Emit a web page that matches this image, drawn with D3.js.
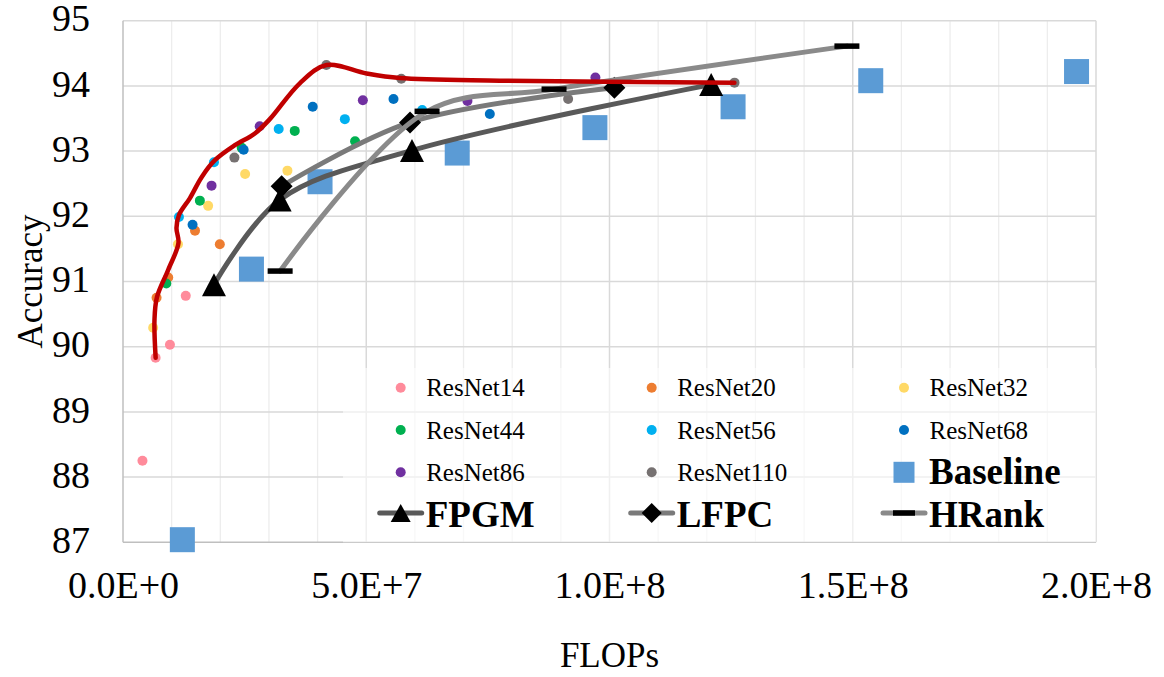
<!DOCTYPE html>
<html>
<head>
<meta charset="utf-8">
<script src="https://cdn.jsdelivr.net/npm/d3@7"></script>
<style>
body { margin: 0; background: #fff; }
text { font-family: "Liberation Serif", "Times New Roman", serif; fill: #000; }
</style>
</head>
<body>
<div id="chart"></div>
<script>
// pruned models, [FLOPs, accuracy]
var resnet14 = [[0.67e7, 89.83], [0.965e7, 90.03], [1.29e7, 90.78], [0.40e7, 88.25]];
var resnet20 = [[0.69e7, 90.75], [0.93e7, 91.06], [1.48e7, 91.78], [1.99e7, 91.57]];
var resnet32 = [[0.62e7, 90.29], [1.13e7, 91.57], [1.75e7, 92.16], [2.51e7, 92.65], [3.38e7, 92.70]];
var resnet44 = [[0.89e7, 90.97], [1.58e7, 92.24], [2.44e7, 93.05], [3.53e7, 93.31], [4.77e7, 93.15]];
var resnet56 = [[1.15e7, 91.99], [1.87e7, 92.83], [3.20e7, 93.34], [4.56e7, 93.49], [6.15e7, 93.63]];
var resnet68 = [[1.43e7, 91.87], [2.48e7, 93.02], [3.90e7, 93.68], [5.56e7, 93.80], [7.54e7, 93.57]];
var resnet86 = [[1.82e7, 92.47], [2.81e7, 93.38], [4.93e7, 93.78], [7.08e7, 93.77], [9.71e7, 94.13]];
var resnet110 = [[2.29e7, 92.90], [4.18e7, 94.32], [5.72e7, 94.11], [9.15e7, 93.80], [12.57e7, 94.05]];

var baseline = [[1.22e7, 87.04], [2.64e7, 91.19], [4.05e7, 92.53], [6.87e7, 92.97],
                [9.70e7, 93.36], [12.54e7, 93.68], [15.37e7, 94.08], [19.60e7, 94.22]];
var fpgm = [[1.87e7, 90.95], [3.22e7, 92.25], [5.94e7, 93.01], [12.09e7, 94.02]];
var lfpc = [[3.26e7, 92.46], [5.90e7, 93.44], [10.10e7, 93.97]];
var hrank = [[3.23e7, 91.16], [6.25e7, 93.61], [8.86e7, 93.95], [14.88e7, 94.61]];

// upper envelope (red)
var envelope = [[0.671e7, 89.83], [0.647e7, 90.41], [0.698e7, 90.76], [0.930e7, 91.18], [1.140e7, 91.59],
                [1.099e7, 91.82], [1.150e7, 92.02], [1.376e7, 92.28], [1.616e7, 92.60], [1.889e7, 92.86],
                [2.300e7, 93.09], [2.710e7, 93.27], [3.018e7, 93.49], [3.634e7, 94.04], [4.183e7, 94.32],
                [5.004e7, 94.19], [5.688e7, 94.12], [7.741e7, 94.08], [12.567e7, 94.05]];

var xTicks = [0, 5e7, 1e8, 1.5e8, 2e8];
var yTicks = [87, 88, 89, 90, 91, 92, 93, 94, 95];

var dotSeries = [
	{name: "ResNet14", color: "#FF8B9B", data: resnet14},
	{name: "ResNet20", color: "#ED7D31", data: resnet20},
	{name: "ResNet32", color: "#FFD966", data: resnet32},
	{name: "ResNet44", color: "#00B050", data: resnet44},
	{name: "ResNet56", color: "#00B0F0", data: resnet56},
	{name: "ResNet68", color: "#0070C0", data: resnet68},
	{name: "ResNet86", color: "#7030A0", data: resnet86},
	{name: "ResNet110", color: "#767171", data: resnet110}
];

var w = 1164, h = 677;
var x = d3.scaleLinear().domain([0, 2e8]).range([123, 1096]);
var y = d3.scaleLinear().domain([87, 95]).range([542.3, 20.7]);

var svg = d3.select("#chart").append("svg")
	.attr("width", w)
	.attr("height", h);

// grid
var grid = svg.append("g");
grid.selectAll(".vminor")
	.data(d3.range(1e7, 2e8, 1e7).filter(function (d) { return d % 5e7 != 0; }))
	.enter().append("line")
	.attr("x1", function (d) { return x(d); }).attr("x2", function (d) { return x(d); })
	.attr("y1", y(95)).attr("y2", y(87))
	.attr("stroke", "#EDEDED").attr("stroke-width", 1.3);
grid.selectAll(".vmajor")
	.data([5e7, 1e8, 1.5e8, 2e8])
	.enter().append("line")
	.attr("x1", function (d) { return x(d); }).attr("x2", function (d) { return x(d); })
	.attr("y1", y(95)).attr("y2", y(87))
	.attr("stroke", "#D9D9D9").attr("stroke-width", 1.5);
grid.selectAll(".hmajor")
	.data(d3.range(88, 96))
	.enter().append("line")
	.attr("x1", x(0)).attr("x2", x(2e8))
	.attr("y1", function (d) { return y(d); }).attr("y2", function (d) { return y(d); })
	.attr("stroke", "#D9D9D9").attr("stroke-width", 1.5);
// axis lines
svg.append("line").attr("x1", x(0)).attr("x2", x(0)).attr("y1", y(95)).attr("y2", y(87))
	.attr("stroke", "#BFBFBF").attr("stroke-width", 1.5);
svg.append("line").attr("x1", x(0)).attr("x2", x(2e8)).attr("y1", y(87)).attr("y2", y(87))
	.attr("stroke", "#BFBFBF").attr("stroke-width", 1.5);

// tick labels
svg.append("g")
	.attr("transform", "translate(" + x(0) + ",0)")
	.call(d3.axisLeft(y).tickValues(yTicks).tickSize(0).tickPadding(33).tickFormat(d3.format("d")))
	.call(function (g) { g.select(".domain").remove(); })
	.selectAll("text")
	.attr("dy", "0.27em")
	.style("font-size", "38px")
	.style("font-family", "Liberation Serif, Times New Roman, serif");

svg.append("g")
	.attr("transform", "translate(0," + y(87) + ")")
	.call(d3.axisBottom(x).tickValues(xTicks).tickSize(0).tickPadding(29)
		.tickFormat(function (d) { return d3.format(".1e")(d).toUpperCase(); }))
	.call(function (g) { g.select(".domain").remove(); })
	.selectAll("text")
	.style("font-size", "38px")
	.style("font-family", "Liberation Serif, Times New Roman, serif");

// axis titles
svg.append("text")
	.attr("transform", "translate(42," + ((y(95) + y(87)) / 2) + ") rotate(-90)")
	.attr("text-anchor", "middle")
	.style("font-size", "35px")
	.text("Accuracy");
svg.append("text")
	.attr("x", (x(0) + x(2e8)) / 2)
	.attr("y", 667)
	.attr("text-anchor", "middle")
	.style("font-size", "35px")
	.text("FLOPs");

// marker paths
function triangle(tw, th) {
	return "M0," + (-th / 2) + "L" + (tw / 2) + "," + (th / 2) + "L" + (-tw / 2) + "," + (th / 2) + "Z";
}
function diamond(s) {
	return "M0," + (-s / 2) + "L" + (s / 2) + ",0L0," + (s / 2) + "L" + (-s / 2) + ",0Z";
}

// scatter dots
dotSeries.forEach(function (s) {
	svg.append("g").selectAll("circle")
		.data(s.data)
		.enter().append("circle")
		.attr("cx", function (d) { return x(d[0]); })
		.attr("cy", function (d) { return y(d[1]); })
		.attr("r", 5)
		.attr("fill", s.color);
});

// baseline squares
svg.append("g").selectAll("rect")
	.data(baseline)
	.enter().append("rect")
	.attr("x", function (d) { return x(d[0]) - 12.5; })
	.attr("y", function (d) { return y(d[1]) - 12.5; })
	.attr("width", 25)
	.attr("height", 25)
	.attr("fill", "#5B9BD5");

var smooth = d3.line()
	.x(function (d) { return x(d[0]); })
	.y(function (d) { return y(d[1]); })
	.curve(d3.curveCatmullRom.alpha(0.5));

function lineSeries(data, color, marker) {
	var g = svg.append("g");
	g.append("path")
		.attr("d", smooth(data))
		.attr("fill", "none")
		.attr("stroke", color)
		.attr("stroke-width", 5)
		.attr("stroke-linecap", "round");
	if (marker == "dash") {
		g.selectAll("rect").data(data).enter().append("rect")
			.attr("x", function (d) { return x(d[0]) - 12.5; })
			.attr("y", function (d) { return y(d[1]) - 2.75; })
			.attr("width", 25).attr("height", 5.5)
			.attr("fill", "#000");
	} else {
		g.selectAll(".m").data(data).enter().append("path")
			.attr("transform", function (d) { return "translate(" + x(d[0]) + "," + y(d[1]) + ")"; })
			.attr("d", marker == "tri" ? triangle(24, 23) : diamond(22))
			.attr("fill", "#000");
	}
}

lineSeries(fpgm, "#595959", "tri");
lineSeries(lfpc, "#7A7A7A", "dia");
lineSeries(hrank, "#8A8A8A", "dash");

// red envelope
svg.append("path")
	.attr("d", smooth(envelope))
	.attr("fill", "none")
	.attr("stroke", "#C00000")
	.attr("stroke-width", 4.5)
	.attr("stroke-linecap", "round");

// legend
var legend = svg.append("g");
legend.append("rect")
	.attr("x", 343).attr("y", 368)
	.attr("width", x(2e8) - 343).attr("height", y(87) - 368)
	.attr("fill", "#fff").attr("opacity", 0.6);

var colX = [400.7, 651.7, 904];
var rowY = [387.7, 430, 472.3, 513];

dotSeries.forEach(function (s, i) {
	var cx = colX[i % 3], cy = rowY[Math.floor(i / 3)];
	legend.append("circle").attr("cx", cx).attr("cy", cy).attr("r", 5).attr("fill", s.color);
	legend.append("text").attr("x", cx + 25.5).attr("y", cy + 8.5)
		.style("font-size", "25px").text(s.name);
});

legend.append("rect").attr("x", colX[2] - 10.5).attr("y", rowY[2] - 10.5)
	.attr("width", 21).attr("height", 21).attr("fill", "#5B9BD5");
legend.append("text").attr("x", colX[2] + 25).attr("y", rowY[2] + 11.5)
	.style("font-size", "37px").style("font-weight", "bold").text("Baseline");

var lineItems = [
	{name: "FPGM", color: "#595959", marker: "tri"},
	{name: "LFPC", color: "#7A7A7A", marker: "dia"},
	{name: "HRank", color: "#8A8A8A", marker: "dash"}
];
lineItems.forEach(function (s, i) {
	var cx = colX[i], cy = rowY[3];
	legend.append("line")
		.attr("x1", cx - 21).attr("x2", cx + 21).attr("y1", cy).attr("y2", cy)
		.attr("stroke", s.color).attr("stroke-width", 5).attr("stroke-linecap", "round");
	if (s.marker == "dash") {
		legend.append("rect").attr("x", cx - 11).attr("y", cy - 2.75)
			.attr("width", 22).attr("height", 5.5).attr("fill", "#000");
	} else {
		legend.append("path")
			.attr("transform", "translate(" + cx + "," + cy + ")")
			.attr("d", s.marker == "tri" ? triangle(20, 18) : diamond(20))
			.attr("fill", "#000");
	}
	legend.append("text").attr("x", cx + 25).attr("y", cy + 13.5)
		.style("font-size", "37px").style("font-weight", "bold").text(s.name);
});
</script>
</body>
</html>
